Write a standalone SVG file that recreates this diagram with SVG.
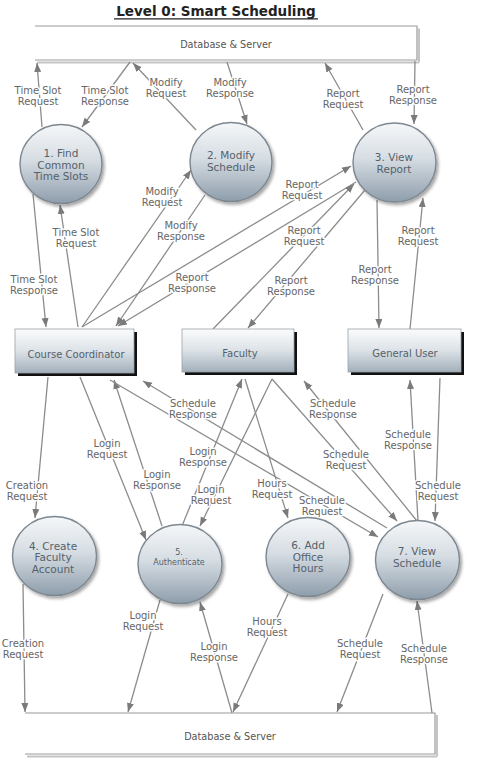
<svg xmlns="http://www.w3.org/2000/svg" width="480" height="768" viewBox="0 0 480 768">
<defs>
<linearGradient id="gc" x1="0" y1="0" x2="0" y2="1">
<stop offset="0" stop-color="#f5f7f9"/><stop offset="0.45" stop-color="#d6dde3"/><stop offset="1" stop-color="#8e9dab"/>
</linearGradient>
<linearGradient id="gr" x1="0" y1="0" x2="0" y2="1">
<stop offset="0" stop-color="#fbfcfc"/><stop offset="0.5" stop-color="#dce2e7"/><stop offset="1" stop-color="#a2afba"/>
</linearGradient>
<filter id="sh" x="-20%" y="-20%" width="150%" height="150%">
<feDropShadow dx="2" dy="2.5" stdDeviation="1.8" flood-color="#000" flood-opacity="0.35"/>
</filter>
<marker id="ah" markerUnits="userSpaceOnUse" markerWidth="10" markerHeight="8" refX="9" refY="3.5" orient="auto">
<path d="M0,0 L9,3.5 L0,7 z" fill="#7a7a7a"/>
</marker>
<style>
.c{stroke:#8c8c8c;stroke-width:1.3;fill:none;marker-end:url(#ah)}
.l{font-family:"DejaVu Sans",Verdana,sans-serif;font-size:10px;fill:#666;text-anchor:middle;stroke:#fff;stroke-width:3;paint-order:stroke;stroke-linejoin:round}
.n{font-family:"DejaVu Sans",Verdana,sans-serif;font-size:10.5px;fill:#56616b;text-anchor:middle}
.s{font-family:"DejaVu Sans",Verdana,sans-serif;font-size:8px;fill:#56616b;text-anchor:middle}
.r{font-family:"DejaVu Sans",Verdana,sans-serif;font-size:10px;fill:#56616b;text-anchor:middle}
.d{font-family:"DejaVu Sans",Verdana,sans-serif;font-size:9.7px;fill:#555;text-anchor:middle}
.proc{fill:url(#gc);stroke:#7d8790;stroke-width:1.4;filter:url(#sh)}
.ent{fill:url(#gr);stroke:#9aa3aa;stroke-width:0.8}
.store{fill:#fff;stroke:#9a9a9a;stroke-width:1.2}
</style>
</defs>
<rect width="480" height="768" fill="#fff"/>
<g id="title">
<text x="216" y="16" font-family="'DejaVu Sans',Verdana,sans-serif" font-size="13.5" font-weight="bold" fill="#222" text-anchor="middle">Level 0: Smart Scheduling</text>
<line x1="114" y1="18.8" x2="318" y2="18.8" stroke="#222" stroke-width="1.2"/>
</g>
<g id="db-top">
<polyline points="419,62.5 419,28.5" stroke="#c4c4c4" stroke-width="2" fill="none"/>
<line x1="37" y1="62.5" x2="419" y2="62.5" stroke="#c4c4c4" stroke-width="2"/>
<polyline class="store" points="35,26 417,26 417,60 35,60"/>
<text class="d" x="226" y="47.5">Database &amp; Server</text>
</g>
<g id="db-bottom">
<line x1="437" y1="715" x2="437" y2="756.5" stroke="#c4c4c4" stroke-width="2"/>
<line x1="27" y1="756.5" x2="437" y2="756.5" stroke="#c4c4c4" stroke-width="2"/>
<polyline class="store" points="25,713 435,713 435,754 25,754"/>
<text class="d" x="230" y="739.5">Database &amp; Server</text>
</g>
<g id="connectors">
<line class="c" x1="42" y1="127" x2="37" y2="63"/>
<line class="c" x1="130" y1="62" x2="82" y2="127"/>
<line class="c" x1="196" y1="130" x2="133" y2="63"/>
<line class="c" x1="227" y1="62" x2="247" y2="124"/>
<line class="c" x1="363" y1="130" x2="325" y2="63"/>
<line class="c" x1="415" y1="61" x2="414" y2="124"/>
<line class="c" x1="78" y1="327" x2="60" y2="205"/>
<line class="c" x1="33" y1="194" x2="46" y2="327"/>
<line class="c" x1="82" y1="327" x2="191" y2="170"/>
<line class="c" x1="205" y1="195" x2="116" y2="326"/>
<line class="c" x1="82" y1="327" x2="351" y2="166"/>
<line class="c" x1="356" y1="182" x2="118" y2="326"/>
<line class="c" x1="213" y1="329" x2="354" y2="184"/>
<line class="c" x1="365" y1="190" x2="248" y2="328"/>
<line class="c" x1="377" y1="200" x2="379" y2="328"/>
<line class="c" x1="410" y1="329" x2="423" y2="198"/>
<line class="c" x1="48" y1="377" x2="35" y2="518"/>
<line class="c" x1="80" y1="377" x2="146" y2="540"/>
<line class="c" x1="162" y1="526" x2="114" y2="380"/>
<line class="c" x1="387" y1="528" x2="143" y2="381"/>
<line class="c" x1="110" y1="380" x2="378" y2="537"/>
<line class="c" x1="182" y1="526" x2="242" y2="379"/>
<line class="c" x1="272" y1="379" x2="200" y2="526"/>
<line class="c" x1="245" y1="379" x2="288" y2="518"/>
<line class="c" x1="272" y1="379" x2="397" y2="521"/>
<line class="c" x1="417" y1="521" x2="304" y2="381"/>
<line class="c" x1="418" y1="521" x2="410" y2="380"/>
<line class="c" x1="440" y1="378" x2="435" y2="521"/>
<line class="c" x1="23" y1="584" x2="25" y2="712"/>
<line class="c" x1="160" y1="600" x2="128" y2="712"/>
<line class="c" x1="232" y1="713" x2="200" y2="602"/>
<line class="c" x1="288" y1="594" x2="233" y2="712"/>
<line class="c" x1="383" y1="594" x2="337" y2="712"/>
<line class="c" x1="432" y1="713" x2="417" y2="601"/>
</g>
<g id="labels">
<text class="l" x="38" y="93.5">Time Slot<tspan x="38" dy="11.5">Request</tspan></text>
<text class="l" x="105" y="93.5">Time Slot<tspan x="105" dy="11.5">Response</tspan></text>
<text class="l" x="166" y="85.5">Modify<tspan x="166" dy="11.5">Request</tspan></text>
<text class="l" x="230" y="85.5">Modify<tspan x="230" dy="11.5">Response</tspan></text>
<text class="l" x="343" y="96.5">Report<tspan x="343" dy="11.5">Request</tspan></text>
<text class="l" x="413" y="92.5">Report<tspan x="413" dy="11.5">Response</tspan></text>
<text class="l" x="76" y="235.5">Time Slot<tspan x="76" dy="11.5">Request</tspan></text>
<text class="l" x="34" y="282.5">Time Slot<tspan x="34" dy="11.5">Response</tspan></text>
<text class="l" x="162" y="194.5">Modify<tspan x="162" dy="11.5">Request</tspan></text>
<text class="l" x="181" y="228.5">Modify<tspan x="181" dy="11.5">Response</tspan></text>
<text class="l" x="302" y="187.5">Report<tspan x="302" dy="11.5">Request</tspan></text>
<text class="l" x="304" y="233.5">Report<tspan x="304" dy="11.5">Request</tspan></text>
<text class="l" x="192" y="280.5">Report<tspan x="192" dy="11.5">Response</tspan></text>
<text class="l" x="291" y="283.5">Report<tspan x="291" dy="11.5">Response</tspan></text>
<text class="l" x="375" y="272.5">Report<tspan x="375" dy="11.5">Response</tspan></text>
<text class="l" x="418" y="233.5">Report<tspan x="418" dy="11.5">Request</tspan></text>
<text class="l" x="27" y="488.5">Creation<tspan x="27" dy="11.5">Request</tspan></text>
<text class="l" x="107" y="446.5">Login<tspan x="107" dy="11.5">Request</tspan></text>
<text class="l" x="157" y="477.5">Login<tspan x="157" dy="11.5">Response</tspan></text>
<text class="l" x="193" y="406.5">Schedule<tspan x="193" dy="11.5">Response</tspan></text>
<text class="l" x="203" y="454.5">Login<tspan x="203" dy="11.5">Response</tspan></text>
<text class="l" x="211" y="492.5">Login<tspan x="211" dy="11.5">Request</tspan></text>
<text class="l" x="272" y="486.5">Hours<tspan x="272" dy="11.5">Request</tspan></text>
<text class="l" x="322" y="503.5">Schedule<tspan x="322" dy="11.5">Request</tspan></text>
<text class="l" x="333" y="406.5">Schedule<tspan x="333" dy="11.5">Response</tspan></text>
<text class="l" x="346" y="457.5">Schedule<tspan x="346" dy="11.5">Request</tspan></text>
<text class="l" x="408" y="437.5">Schedule<tspan x="408" dy="11.5">Response</tspan></text>
<text class="l" x="438" y="488.5">Schedule<tspan x="438" dy="11.5">Request</tspan></text>
<text class="l" x="23" y="646.5">Creation<tspan x="23" dy="11.5">Request</tspan></text>
<text class="l" x="143" y="618.5">Login<tspan x="143" dy="11.5">Request</tspan></text>
<text class="l" x="214" y="649.5">Login<tspan x="214" dy="11.5">Response</tspan></text>
<text class="l" x="267" y="624.5">Hours<tspan x="267" dy="11.5">Request</tspan></text>
<text class="l" x="360" y="646.5">Schedule<tspan x="360" dy="11.5">Request</tspan></text>
<text class="l" x="424" y="651.5">Schedule<tspan x="424" dy="11.5">Response</tspan></text>
</g>
<g id="p1">
<ellipse class="proc" cx="61" cy="164" rx="41" ry="39.5"/>
<text class="n" x="61" y="157">1. Find<tspan x="61" dy="11.7">Common</tspan><tspan x="61" dy="11.7">Time Slots</tspan></text>
</g>
<g id="p2">
<ellipse class="proc" cx="231" cy="162" rx="41" ry="39.5"/>
<text class="n" x="231" y="159">2. Modify<tspan x="231" dy="12">Schedule</tspan></text>
</g>
<g id="p3">
<ellipse class="proc" cx="394.5" cy="162.5" rx="41.5" ry="39.5"/>
<text class="n" x="394" y="161">3. View<tspan x="394" dy="11.7">Report</tspan></text>
</g>
<g id="p4">
<ellipse class="proc" cx="54.5" cy="556" rx="42" ry="39.5"/>
<text class="n" x="53" y="550">4. Create<tspan x="53" dy="11.3">Faculty</tspan><tspan x="53" dy="11.3">Account</tspan></text>
</g>
<g id="p5">
<ellipse class="proc" cx="180" cy="564" rx="42" ry="39.5"/>
<text class="s" x="179" y="555">5.<tspan x="179" dy="10">Authenticate</tspan></text>
</g>
<g id="p6">
<ellipse class="proc" cx="308" cy="557" rx="42" ry="39.5"/>
<text class="n" x="308" y="549">6. Add<tspan x="308" dy="11.5">Office</tspan><tspan x="308" dy="11.5">Hours</tspan></text>
</g>
<g id="p7">
<ellipse class="proc" cx="417.5" cy="560" rx="42" ry="39.5"/>
<text class="n" x="417" y="555">7. View<tspan x="417" dy="11.5">Schedule</tspan></text>
</g>
<g id="e-cc">
<rect x="18" y="332" width="119" height="44" fill="#111"/>
<rect class="ent" x="15" y="329" width="119" height="44"/>
<text class="r" x="76" y="357.5">Course Coordinator</text>
</g>
<g id="e-fac">
<rect x="185" y="332" width="112" height="43" fill="#111"/>
<rect class="ent" x="182" y="329" width="112" height="43"/>
<text class="r" x="240" y="357">Faculty</text>
</g>
<g id="e-gu">
<rect x="351" y="332" width="113" height="43" fill="#111"/>
<rect class="ent" x="348" y="329" width="113" height="43"/>
<text class="r" x="405" y="357">General User</text>
</g>
</svg>
